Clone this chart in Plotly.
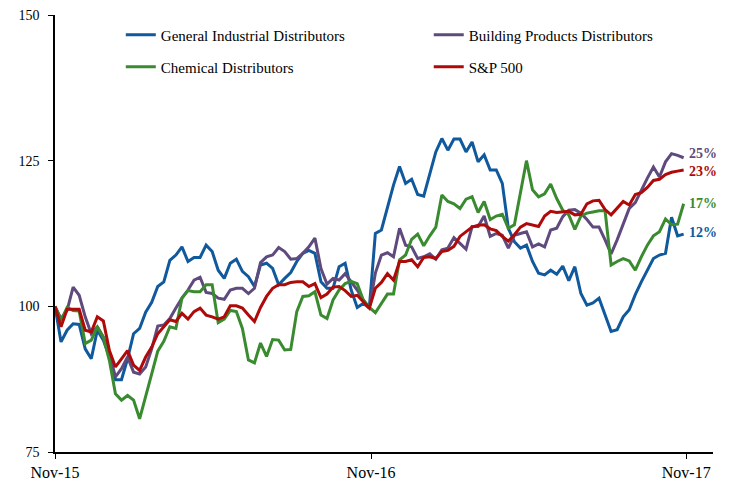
import pandas as pd
import plotly.graph_objects as go

# weekly index levels, Nov-15 = 100
dates = pd.date_range("2015-11-13", periods=105, freq="7D")

general_industrial = [
    100.0, 93.9, 95.9, 97.0, 96.9, 92.7, 91.0, 95.9, 94.2, 91.3,
    87.4, 87.4, 91.0, 95.3, 96.2, 99.0, 100.7, 103.4, 104.2, 107.9,
    108.8, 110.2, 107.7, 108.4, 108.4, 110.5, 109.4, 106.2, 104.8, 107.4,
    108.1, 106.0, 105.1, 103.4, 107.1, 107.4, 106.5, 103.7, 104.8, 105.8,
    107.7, 109.1, 109.6, 109.1, 104.2, 103.1, 103.1, 106.8, 107.4, 102.8,
    99.8, 100.5, 99.7, 112.5, 113.1, 116.8, 120.8, 124.0, 121.1, 121.8,
    119.2, 118.9, 122.8, 126.5, 128.8, 126.8, 128.7, 128.7, 126.5, 128.2,
    124.8, 126.0, 123.4, 123.4, 121.1, 113.4, 111.1, 110.0, 110.5, 107.7,
    105.7, 105.4, 106.2, 105.5, 106.9, 104.4, 106.8, 102.2, 100.2, 100.6,
    101.4, 98.5, 95.7, 96.0, 98.2, 99.4, 102.0, 104.2, 106.2, 108.2,
    108.8, 109.1, 115.3, 112.1, 112.4,
]

building_products = [
    100.0, 97.9, 99.3, 103.3, 101.9, 98.2, 95.3, 96.5, 94.7, 91.9,
    87.9, 89.3, 91.3, 88.7, 88.4, 89.6, 92.7, 96.6, 96.8, 97.9,
    99.7, 101.4, 102.8, 104.5, 105.0, 102.4, 102.2, 101.4, 101.2, 102.8,
    103.1, 103.1, 102.2, 103.1, 107.5, 108.5, 108.8, 110.1, 109.4, 108.1,
    108.2, 109.1, 110.2, 111.7, 106.5, 103.8, 104.8, 104.5, 105.6, 104.2,
    102.8, 101.1, 99.7, 105.7, 108.8, 109.2, 108.5, 113.4, 110.5, 110.2,
    108.2, 108.5, 109.0, 108.1, 109.7, 110.0, 111.8, 110.8, 109.8, 113.7,
    113.7, 115.5, 112.0, 112.5, 112.2, 110.0, 112.2, 112.5, 112.8, 110.2,
    110.7, 110.2, 113.1, 113.4, 115.4, 116.5, 116.6, 116.0, 114.9, 113.6,
    113.6, 111.4, 109.0, 111.4, 114.2, 116.8, 117.8, 120.0, 122.0, 123.9,
    122.2, 124.8, 126.2, 125.9, 125.5,
]

chemical = [
    100.0, 97.6, 99.8, 99.3, 99.2, 93.6, 94.2, 96.5, 94.7, 90.7,
    85.0, 83.9, 84.7, 83.9, 80.7, 84.4, 88.4, 92.3, 94.0, 96.5,
    96.2, 101.4, 102.7, 102.5, 102.5, 103.7, 103.7, 97.2, 97.8, 99.3,
    99.1, 96.2, 90.8, 90.3, 93.7, 91.4, 94.3, 94.2, 92.5, 92.6,
    99.1, 101.7, 101.8, 102.5, 98.5, 97.9, 101.1, 102.8, 103.9, 104.3,
    103.9, 101.1, 99.8, 98.9, 100.5, 102.1, 102.1, 108.0, 108.8, 111.5,
    112.4, 110.4, 112.1, 113.6, 119.1, 118.0, 117.6, 116.8, 118.4, 118.8,
    116.1, 118.0, 114.9, 115.5, 115.8, 113.4, 114.0, 119.7, 125.0, 120.0,
    118.8, 119.3, 121.0, 118.5, 116.5, 115.7, 113.2, 115.5, 116.0, 116.2,
    116.4, 116.4, 107.1, 107.7, 108.2, 107.8, 106.2, 108.5, 110.5, 112.1,
    112.8, 115.0, 114.0, 114.1, 117.6,
]

sp500 = [
    100.0, 96.5, 99.5, 99.5, 99.5, 95.9, 95.6, 98.2, 97.5, 92.4,
    89.6, 91.0, 92.4, 89.9, 89.0, 91.3, 93.0, 95.3, 96.5, 97.7,
    97.4, 98.8, 97.8, 99.1, 99.7, 98.5, 98.2, 97.8, 98.2, 100.1,
    100.1, 99.7, 98.5, 97.4, 99.8, 101.7, 103.1, 103.7, 103.7, 104.1,
    104.2, 104.2, 103.4, 103.9, 101.5, 102.1, 103.3, 103.4, 102.7, 101.7,
    101.9, 100.8, 99.7, 103.1, 104.1, 105.6, 104.5, 107.7, 107.7, 108.0,
    106.8, 108.4, 108.5, 108.2, 109.4, 109.6, 110.3, 112.0, 112.8, 113.6,
    113.9, 114.0, 113.3, 113.0, 112.0, 111.2, 112.3, 113.6, 114.2, 114.0,
    113.7, 115.5, 116.3, 116.1, 116.2, 116.3, 115.7, 115.8, 117.6, 118.1,
    118.2, 116.6, 115.7, 116.8, 118.0, 117.4, 119.2, 119.5, 120.4, 121.6,
    121.8, 122.6, 123.0, 123.2, 123.4,
]

# name, values, colour, legend id, end label, label nudge (px)
series = [
    ("General Industrial Distributors", general_industrial, "#10599C", "legend", "12%", 2),
    ("Building Products Distributors", building_products, "#5F4A7D", "legend2", "25%", 4),
    ("Chemical Distributors", chemical, "#3A8B30", "legend3", "17%", 0),
    ("S&P 500", sp500, "#AE0A0A", "legend4", "23%", -2),
]

tick_dates = ["2015-11-13", "2016-11-13", "2017-11-13"]
tick_text = ["Nov-15", "Nov-16", "Nov-17"]

FONT = "Liberation Serif"

fig = go.Figure()
for name, vals, color, leg, lab, nudge in series:
    fig.add_trace(go.Scatter(
        x=dates, y=vals, mode="lines", name=name,
        line=dict(color=color, width=3), legend=leg, showlegend=True,
    ))
    fig.add_annotation(
        x=dates[-1], y=vals[-1], text=f"<b>{lab}</b>", showarrow=False,
        xanchor="left", yanchor="middle", xshift=3, yshift=nudge,
        font=dict(family=FONT, size=14, color=color),
    )

# one legend per entry so the 2x2 grid sits where the reference has it
def legend_box(x, y):
    return dict(
        x=x, y=y, xanchor="left", yanchor="middle",
        font=dict(family=FONT, size=15, color="black"),
        bgcolor="rgba(0,0,0,0)", itemclick=False, itemdoubleclick=False,
    )

fig.update_layout(
    width=729, height=482,
    showlegend=True,
    margin=dict(l=55, r=16, t=15, b=30, autoexpand=False),
    paper_bgcolor="white", plot_bgcolor="white",
    font=dict(family=FONT, size=14, color="black"),
    legend=legend_box(0.10, 0.954),
    legend2=legend_box(0.568, 0.954),
    legend3=legend_box(0.10, 0.881),
    legend4=legend_box(0.568, 0.881),
    xaxis=dict(
        range=[pd.Timestamp("2015-11-13"), pd.Timestamp("2017-12-14")],
        tickvals=pd.to_datetime(tick_dates), ticktext=tick_text,
        showgrid=False, zeroline=False, automargin=False,
        showline=True, linecolor="black", linewidth=1.5,
        ticks="outside", ticklen=5, tickcolor="black",
        tickfont=dict(family=FONT, size=16),
    ),
    yaxis=dict(
        range=[75, 150], tickvals=[75, 100, 125, 150],
        showgrid=False, zeroline=False, automargin=False,
        showline=True, linecolor="black", linewidth=1.5,
        ticks="outside", ticklen=5, tickcolor="black",
        tickfont=dict(family=FONT, size=14),
        ticklabelstandoff=6,
    ),
)

fig.write_html(
    "out.html",
    config={"displayModeBar": False},
    post_script="document.body.style.margin='0';document.body.style.overflow='hidden';",
)
